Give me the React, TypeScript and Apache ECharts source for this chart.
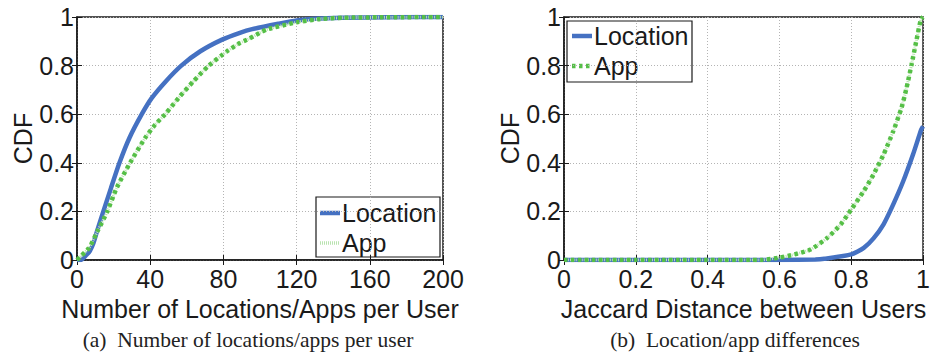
import React, { useEffect, useRef } from "react";
import * as echarts from "echarts";

// (a) CDF of the number of distinct locations / apps per user
const countLocX = [0, 2, 5, 7, 9, 11, 14.4, 18.6, 23.2, 28.7, 35.4, 40.9, 48.6, 57, 67.4, 79.3, 89, 95.7, 110, 120, 130, 145, 170, 200];
const countLocCdf = [0, 0, 0.02, 0.037, 0.07, 0.12, 0.2, 0.297, 0.4, 0.503, 0.6, 0.667, 0.736, 0.8, 0.859, 0.907, 0.935, 0.95, 0.972, 0.986, 0.993, 0.997, 0.999, 1];
const countAppX = [0, 2.2, 6.6, 11.3, 16.6, 21.7, 29, 37.3, 42.7, 48.2, 55.5, 63.7, 72, 82, 89, 93.9, 103.6, 120, 133, 146, 170, 200];
const countAppCdf = [0, 0.016, 0.05, 0.12, 0.2, 0.297, 0.4, 0.503, 0.557, 0.6, 0.667, 0.736, 0.8, 0.859, 0.893, 0.91, 0.948, 0.978, 0.992, 0.997, 0.999, 1];

// (b) CDF of the Jaccard distance between users
const jacLocX = [0, 0.6, 0.7, 0.725, 0.8, 0.835, 0.862, 0.89, 0.917, 0.945, 0.972, 0.995, 1];
const jacLocCdf = [0, 0, 0.002, 0.005, 0.023, 0.05, 0.089, 0.147, 0.229, 0.325, 0.434, 0.537, 0.55];
const jacAppX = [0, 0.55, 0.6, 0.642, 0.688, 0.734, 0.771, 0.8, 0.835, 0.862, 0.89, 0.917, 0.94, 0.954, 0.968, 0.982, 0.994, 1];
const jacAppCdf = [0, 0, 0.01, 0.023, 0.044, 0.092, 0.147, 0.208, 0.284, 0.352, 0.434, 0.53, 0.626, 0.708, 0.804, 0.907, 0.99, 1];

const countTicks = [0, 40, 80, 120, 160, 200];
const jacTicks = [0, 0.2, 0.4, 0.6, 0.8, 1];
const cdfTicks = [0, 0.2, 0.4, 0.6, 0.8, 1];

const seriesNames = ["Location", "App"];
const captions = ["(a)  Number of locations/apps per user", "(b)  Location/app differences"];
const xTitles = ["Number of Locations/Apps per User", "Jaccard Distance between Users"];

const BLUE = "#4571c2";
const GREEN = "#55bf46";
const LIGHT_GREEN = "#b9e3b0";
const INK = "#1a1a1a";
const FONT = "Liberation Sans";

const zip = (xs: number[], ys: number[]) => xs.map((x, i) => [x, ys[i]]);

export default function App() {
  const ref = useRef<HTMLDivElement>(null);

  useEffect(() => {
    const chart = echarts.init(ref.current!, null, { renderer: "svg" });

    const grids = [
      { left: 77, top: 17, width: 366, height: 243 },
      { left: 564, top: 17, width: 366, height: 243 },
    ];
    const xRanges = [
      { min: countTicks[0], max: countTicks[countTicks.length - 1], interval: countTicks[1] - countTicks[0] },
      { min: jacTicks[0], max: jacTicks[jacTicks.length - 1], interval: jacTicks[1] - jacTicks[0] },
    ];
    const yRange = { min: cdfTicks[0], max: cdfTicks[cdfTicks.length - 1], interval: cdfTicks[1] - cdfTicks[0] };

    const labelStyle = { fontSize: 25, color: INK, fontFamily: FONT };
    const tickIn = { show: true, inside: true, length: 5, lineStyle: { color: INK, width: 1 } };
    const split = { show: true, lineStyle: { color: "#b4b4b4", width: 1, type: [1, 2] as any } };

    const xAxis: any[] = [];
    const yAxis: any[] = [];
    [0, 1].forEach((g) => {
      xAxis.push({
        type: "value",
        gridIndex: g,
        position: "bottom",
        ...xRanges[g],
        axisLine: { show: true, lineStyle: { color: INK, width: 1.5 } },
        axisTick: tickIn,
        axisLabel: { ...labelStyle, lineHeight: 22, margin: 8, showMaxLabel: true, showMinLabel: true },
        splitLine: split,
        name: xTitles[g],
        nameLocation: "middle",
        nameGap: 24,
        nameTextStyle: { ...labelStyle },
      });
      xAxis.push({
        type: "value",
        gridIndex: g,
        position: "top",
        ...xRanges[g],
        axisLine: { show: false },
        axisTick: tickIn,
        axisLabel: { show: false },
        splitLine: { show: false },
      });
      yAxis.push({
        type: "value",
        gridIndex: g,
        position: "left",
        ...yRange,
        axisLine: { show: true, lineStyle: { color: INK, width: 1.5 } },
        axisTick: tickIn,
        axisLabel: { ...labelStyle, lineHeight: 16, margin: 3 },
        splitLine: split,
        name: "CDF",
        nameLocation: "middle",
        nameGap: 41,
        nameTextStyle: { ...labelStyle },
      });
      yAxis.push({
        type: "value",
        gridIndex: g,
        position: "right",
        ...yRange,
        axisLine: { show: false },
        axisTick: tickIn,
        axisLabel: { show: false },
        splitLine: { show: false },
      });
    });

    const line = (name: string, g: number, data: number[][], color: string, width: number, type: any, z: number) => ({
      type: "line",
      name,
      xAxisIndex: g * 2,
      yAxisIndex: g * 2,
      data,
      showSymbol: false,
      symbol: "none",
      smooth: 0.2,
      z,
      lineStyle: { color, width, type, cap: "butt" },
      itemStyle: { color },
    });

    const series: any[] = [
      line(seriesNames[0], 0, zip(countLocX, countLocCdf), BLUE, 4.5, "solid", 3),
      line(seriesNames[1] + " (a) trace", 0, zip(countAppX, countAppCdf), LIGHT_GREEN, 3, [1, 1], 4),
      line(seriesNames[1], 0, zip(countAppX, countAppCdf), GREEN, 4.5, [3.5, 3.5], 5),
      line(seriesNames[0], 1, zip(jacLocX, jacLocCdf), BLUE, 4.5, "solid", 3),
      line(seriesNames[1] + " (b) trace", 1, zip(jacAppX, jacAppCdf), LIGHT_GREEN, 3, [1, 1], 4),
      line(seriesNames[1], 1, zip(jacAppX, jacAppCdf), GREEN, 4.5, [3.5, 3.5], 5),
    ];

    // Boxed legends drawn as graphics: frame, line sample, label per row
    const legendBox = (x: number, y: number, w: number, h: number, rows: { cy: number; sample: any }[], iconX: number, textX: number) => ({
      type: "group",
      z: 100,
      children: [
        { type: "rect", shape: { x, y, width: w, height: h }, style: { fill: "#fff", stroke: INK, lineWidth: 1.2 } },
        ...rows.flatMap((r, i) => [
          { type: "line", shape: { x1: iconX, y1: r.cy, x2: iconX + 20, y2: r.cy }, style: r.sample },
          {
            type: "text",
            x: textX,
            y: r.cy,
            style: { text: seriesNames[i], font: `25px '${FONT}'`, fill: INK, textAlign: "left", textVerticalAlign: "middle" },
          },
        ]),
      ],
    });

    const blueSample = { stroke: BLUE, lineWidth: 4.5 };
    const greenSample = { stroke: GREEN, lineWidth: 4.5, lineDash: [3.5, 3.5] };
    const lightSample = { stroke: LIGHT_GREEN, lineWidth: 3.5, lineDash: [1, 1] };

    chart.setOption({
      animation: false,
      backgroundColor: "#fff",
      grid: grids.map((g) => ({ ...g, show: true, borderColor: INK, borderWidth: 1.5, containLabel: false })),
      xAxis,
      yAxis,
      series,
      graphic: [
        legendBox(316, 197, 124, 60, [{ cy: 213, sample: blueSample }, { cy: 243, sample: lightSample }], 320, 342),
        legendBox(567, 21, 125, 61, [{ cy: 36, sample: blueSample }, { cy: 66, sample: greenSample }], 572, 594),
        {
          type: "text",
          x: 248,
          y: 340,
          style: { text: captions[0], font: "21.5px 'Liberation Serif'", fill: "#222", textAlign: "center", textVerticalAlign: "middle" },
        },
        {
          type: "text",
          x: 735,
          y: 340,
          style: { text: captions[1], font: "21.5px 'Liberation Serif'", fill: "#222", textAlign: "center", textVerticalAlign: "middle" },
        },
      ],
    });

    return () => chart.dispose();
  }, []);

  return <div ref={ref} style={{ position: "absolute", left: 0, top: 0, width: 933, height: 356 }} />;
}
